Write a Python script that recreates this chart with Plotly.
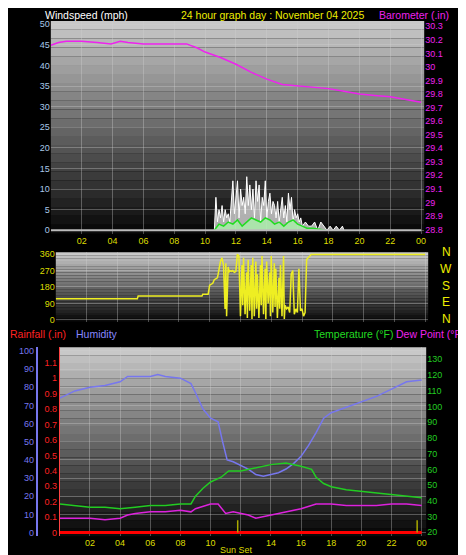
import plotly.graph_objects as go

W, H = 466, 555
def px(x): return x / W
def py(y): return 1 - y / H

# ---------------- data ----------------
baro_t = [0, 0.5, 1, 2, 3, 3.9, 4.5, 5, 6, 7, 8, 8.8, 9.5, 10, 11, 12, 13, 14, 15, 16, 17, 18, 19, 20, 21, 22, 23, 24]
baro_v = [30.16, 30.18, 30.19, 30.19, 30.18, 30.17, 30.19, 30.18, 30.17, 30.17, 30.17, 30.17, 30.14, 30.11, 30.07, 30.02,
          29.96, 29.91, 29.87, 29.86, 29.85, 29.84, 29.82, 29.80, 29.79, 29.78, 29.76, 29.74]

gust_t = [10.6, 10.7, 10.8, 10.9, 11.0, 11.1, 11.2, 11.3, 11.4, 11.5, 11.6, 11.7, 11.8, 11.9, 12.0, 12.1, 12.2, 12.3,
          12.4, 12.5, 12.6, 12.7, 12.8, 12.9, 13.0, 13.1, 13.2, 13.3, 13.4, 13.5, 13.6, 13.7, 13.8, 13.9, 14.0, 14.1,
          14.2, 14.3, 14.4, 14.5, 14.6, 14.7, 14.8, 14.9, 15.0, 15.1, 15.2, 15.3, 15.4, 15.5, 15.6, 15.7, 15.8, 15.9,
          16.0, 16.1, 16.2, 16.3, 16.5, 16.7, 16.9, 17.1, 17.3, 17.5, 17.7, 17.9, 18.1, 18.3, 18.5, 18.7, 18.9, 19.0]
gust_v = [0, 8, 2, 5, 3, 6, 2, 5, 3, 4, 2, 7, 12, 4, 9, 12, 3, 10, 6, 8, 4, 13, 6, 11, 5, 10, 3, 12, 7, 11, 2, 8, 6, 12, 3,
          7, 9, 4, 7, 6, 3, 7, 2, 5, 8, 3, 6, 2, 9, 5, 8, 2, 5, 3, 4, 2, 3, 1, 2, 1, 1, 2, 0, 2, 1, 0, 1, 0, 1, 0, 1, 0]
avg_t = [10.6, 10.9, 11.2, 11.5, 11.8, 12.1, 12.4, 12.7, 13.0, 13.3, 13.6, 13.9, 14.2, 14.5, 14.8, 15.1, 15.4, 15.7,
         16.0, 16.3, 16.6, 17.0, 17.5, 17.8]
avg_v = [0, 1.5, 1, 2, 1.5, 2.5, 1, 2, 3, 2.5, 2, 3, 2.5, 1.5, 2, 1, 2, 2.5, 1.5, 1, 0.5, 0.5, 0.3, 0]

dir_t = [0, 5.3, 5.35, 9.5, 9.55, 9.9, 10.0, 10.2, 10.3, 10.5, 10.55, 10.7, 10.8, 10.9, 11.0, 11.05, 11.1, 11.2, 11.25,
         11.3, 11.4, 11.5, 11.6, 11.7, 11.8, 11.9, 12.0, 12.1, 12.15, 12.2, 12.3, 12.4, 12.45, 12.5, 12.6, 12.7, 12.75,
         12.8, 12.9, 13.0, 13.05, 13.1, 13.2, 13.3, 13.35, 13.4, 13.5, 13.6, 13.65, 13.7, 13.8, 13.9, 13.95, 14.0, 14.1,
         14.2, 14.25, 14.3, 14.4, 14.5, 14.55, 14.6, 14.7, 14.8, 14.85, 14.9, 15.0, 15.1, 15.2, 15.3, 15.4, 15.5, 15.6,
         15.7, 15.8, 15.9, 16.0, 16.1, 16.2, 16.3, 16.4, 16.5, 16.6, 24]
dir_v = [115, 115, 130, 130, 140, 140, 190, 200, 220, 230, 250, 320, 340, 300, 60, 310, 20, 290, 260, 270, 265, 270, 260,
         265, 360, 350, 20, 300, 80, 340, 30, 260, 10, 330, 50, 300, 5, 340, 20, 320, 60, 250, 10, 300, 80, 350, 30, 280,
         5, 320, 90, 260, 20, 350, 40, 310, 70, 280, 10, 230, 60, 300, 20, 350, 5, 80, 60, 70, 40, 250, 270, 30, 60, 40,
         280, 50, 60, 20, 40, 330, 340, 350, 358, 358]

hum_t = [0, 0.5, 1, 2, 3, 4, 4.5, 5, 6, 6.5, 7, 8, 8.7, 9, 9.5, 10, 10.5, 10.8, 11.1, 11.5, 12, 12.5, 13, 13.5, 14, 14.5,
         15, 15.5, 16, 16.5, 17, 17.5, 18, 19, 20, 21, 22, 23, 24]
hum_v = [74, 76, 78, 80, 81, 83, 86, 86, 86, 87, 86, 85, 82, 77, 68, 63, 61, 50, 40, 39, 37, 35, 32, 31, 32, 33, 35, 38,
         42, 48, 55, 63, 66, 69, 72, 75, 79, 83, 84]
temp_t = [0, 1, 2, 3, 4, 5, 6, 7, 8, 8.7, 9, 9.5, 10, 10.7, 11.2, 12, 13, 14, 15, 16, 16.7, 17, 17.5, 18, 19, 20, 21, 22,
          23, 24]
temp_v = [38, 37, 36, 36, 35, 36, 37, 37, 38, 38, 43, 48, 52, 55, 59, 59, 61, 63, 64, 62, 60, 55, 51, 49, 47, 46, 45, 44,
          43, 42]
dew_t = [0, 1, 2, 3, 4, 4.5, 5, 6, 7, 8, 8.7, 9, 10, 10.5, 11, 11.5, 12, 12.5, 13, 13.5, 14, 15, 15.5, 16, 17, 18, 19,
         20, 21, 22, 23, 24]
dew_v = [29, 29, 29, 28, 29, 31, 32, 33, 33, 34, 33, 35, 38, 38, 32, 33, 32, 31, 29, 30, 31, 33, 34, 35, 38, 38, 37, 37,
         37, 38, 38, 37]
rain_t = [0, 24]
rain_v = [0, 0]
sun_t = [11.8, 23.7]

hour_ticks = [2, 4, 6, 8, 10, 12, 14, 16, 18, 20, 22, 24]
hour_labels = ["02", "04", "06", "08", "10", "12", "14", "16", "18", "20", "22", "00"]
hour_labels3 = ["02", "04", "06", "08", "10", "", "14", "16", "18", "20", "22", "00"]

# ---------------- figure ----------------
fig = go.Figure()
F = "Liberation Sans, Arial"
grid = "rgba(210,210,210,0.35)"

fig.add_trace(go.Scatter(x=gust_t, y=gust_v, mode="lines", line=dict(color="white", width=1),
                         fill="tozeroy", fillcolor="rgba(230,230,230,0.75)", xaxis="x", yaxis="y"))
fig.add_trace(go.Scatter(x=avg_t, y=avg_v, mode="lines", line=dict(color="#22dd22", width=1.5),
                         fill="tozeroy", fillcolor="rgba(170,240,170,0.8)", xaxis="x", yaxis="y"))
fig.add_trace(go.Scatter(x=[0, 24], y=[0, 0], mode="lines", line=dict(color="#bbbbbb", width=2), xaxis="x", yaxis="y"))
fig.add_trace(go.Scatter(x=baro_t, y=baro_v, mode="lines", line=dict(color="#ee22ee", width=1.5), xaxis="x", yaxis="y2"))
fig.add_trace(go.Scatter(x=dir_t, y=dir_v, mode="lines", line=dict(color="#eeee22", width=1.5), xaxis="x2", yaxis="y3"))
fig.add_trace(go.Scatter(x=hum_t, y=hum_v, mode="lines", line=dict(color="#7777ee", width=1.5), xaxis="x3", yaxis="y4"))
fig.add_trace(go.Scatter(x=temp_t, y=temp_v, mode="lines", line=dict(color="#22cc22", width=1.5), xaxis="x3", yaxis="y6"))
fig.add_trace(go.Scatter(x=dew_t, y=dew_v, mode="lines", line=dict(color="#dd22dd", width=1.5), xaxis="x3", yaxis="y6"))
fig.add_trace(go.Scatter(x=rain_t, y=rain_v, mode="lines", line=dict(color="#ff0000", width=3), xaxis="x3", yaxis="y5"))
for s in sun_t:
    fig.add_trace(go.Scatter(x=[s, s], y=[0, 0.08], mode="lines", line=dict(color="#aaaa00", width=1.5),
                             xaxis="x3", yaxis="y5"))

# gradient backgrounds
shapes = []
def grad(x0, x1, y0, y1, top, bot, n=24):
    for i in range(n):
        f = i / (n - 1)
        c = int(top + (bot - top) * f)
        shapes.append(dict(type="rect", xref="paper", yref="paper", layer="below", line=dict(width=0),
                           x0=px(x0), x1=px(x1), y0=py(y0 + (y1 - y0) * (i + 1) / n), y1=py(y0 + (y1 - y0) * i / n),
                           fillcolor=f"rgb({c},{c},{c})"))
grad(43, 418, 10, 225, 200, 10)
grad(48, 422, 244, 314, 200, 10)
grad(52, 420, 340, 531, 200, 10)

tickf = dict(family=F, size=9)
ax = dict(showgrid=True, gridcolor=grid, zeroline=False, ticks="", showline=False)
fig.update_layout(
    width=W, height=H, margin=dict(l=0, r=0, t=0, b=0), paper_bgcolor="black", plot_bgcolor="rgba(0,0,0,0)",
    showlegend=False, shapes=shapes,
    xaxis=dict(ax, domain=[px(43), px(418)], range=[0, 24.2], tickvals=hour_ticks, ticktext=hour_labels,
               tickfont=dict(tickf, color="#dddd00"), anchor="y"),
    yaxis=dict(ax, domain=[py(225), py(10)], range=[-0.8, 50.8], tickvals=list(range(0, 51, 5)),
               tickfont=dict(tickf, color="#a8c8e8"), anchor="x"),
    yaxis2=dict(ax, overlaying="y", side="right", anchor="x", showgrid=False, range=[28.77, 30.34],
                tickvals=[round(28.8 + 0.1 * i, 1) for i in range(16)],
                ticktext=[f"{28.8 + 0.1 * i:.1f}".replace("30.0", "30").replace("29.0", "29") for i in range(16)],
                tickfont=dict(tickf, color="#ee22ee")),
    xaxis2=dict(ax, domain=[px(48), px(422)], range=[0, 24.2], tickvals=hour_ticks, showticklabels=False, anchor="y3"),
    yaxis3=dict(ax, domain=[py(314), py(244)], range=[-10, 370], tickvals=[0, 90, 180, 270, 360],
                tickfont=dict(tickf, color="#dddd00"), anchor="x2"),
    xaxis3=dict(ax, domain=[px(52), px(420)], range=[0, 24.3], tickvals=hour_ticks, ticktext=hour_labels3,
                tickfont=dict(tickf, color="#dddd00"), anchor="y4"),
    yaxis4=dict(ax, domain=[py(531), py(340)], range=[-2, 102], tickvals=list(range(0, 101, 10)),
                tickfont=dict(tickf, color="#7777ee"), anchor="free", position=px(29), showline=True,
                linecolor="#7777ee", linewidth=2),
    yaxis5=dict(ax, overlaying="y4", anchor="x3", side="left", showgrid=False, range=[-0.0235, 1.199],
                tickvals=[round(0.1 * i, 1) for i in range(12)],
                ticktext=["0", "0.1", "0.2", "0.3", "0.4", "0.5", "0.6", "0.7", "0.8", "0.9", "1", "1.1"],
                tickfont=dict(tickf, color="#ff2222"), showline=True, linecolor="#ff4444", linewidth=1),
    yaxis6=dict(ax, overlaying="y4", anchor="x3", side="right", showgrid=False, range=[17.5, 137.5],
                tickvals=list(range(20, 131, 10)), tickfont=dict(tickf, color="#22cc22")),
)

ann = []
def t(x, y, s, c, size=11, xa="left"):
    ann.append(dict(x=px(x), y=py(y), xref="paper", yref="paper", text=s, showarrow=False, xanchor=xa,
                    yanchor="middle", font=dict(family=F, size=size, color=c)))
t(35, 4, "Windspeed (mph)", "white", 10.5)
t(172, 4, "24 hour graph day : November 04 2025", "#eeee00", 10.5)
t(371, 4, "Barometer (.in)", "#ee22ee", 10.5)
for i, s in enumerate(["N", "W", "S", "E", "N"]):
    t(440, 244 + i * 16.8, s, "#eeee00", 12, "center")
t(0, 327, "Rainfall (.in)", "#ff2222", 10.5)
t(66, 327, "Humidity", "#8888ff", 10.5)
t(389, 327, "Temperature (°F)", "#22dd22", 10.5, "right")
t(460, 327, "Dew Point (°F)", "#ee22ee", 10.5, "right")
t(229, 545, "Sun Set", "#dddd00", 9, "center")
fig.update_layout(annotations=ann)

fig.write_html("out.html")
